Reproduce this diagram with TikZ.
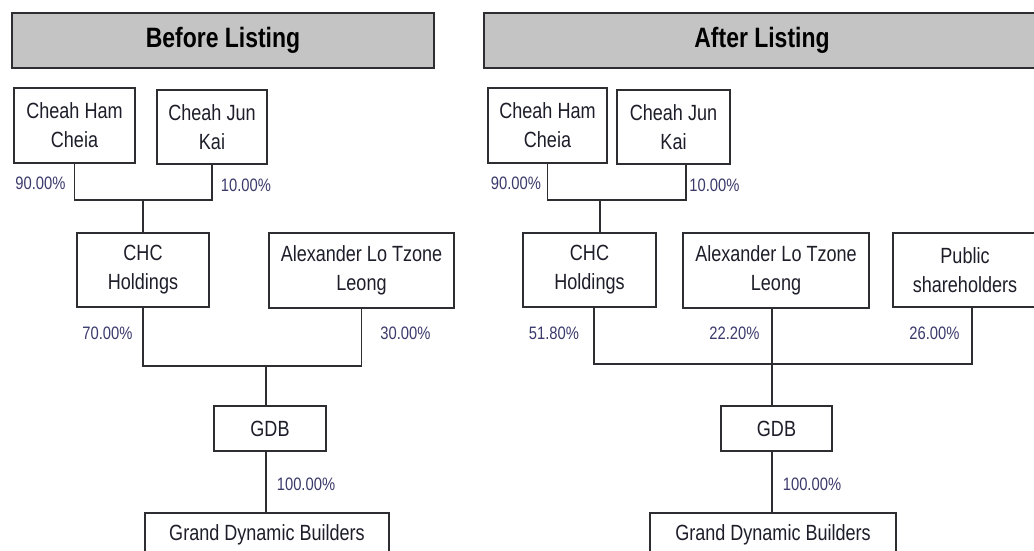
\documentclass[tikz,border=0pt]{standalone}
\usepackage{fontspec}
\setmainfont{Liberation Sans}[FakeStretch=0.82]
\definecolor{txt}{RGB}{30,30,42}
\definecolor{pct}{RGB}{58,58,108}
\definecolor{hdrfill}{RGB}{196,196,196}
\definecolor{edge}{RGB}{45,45,50}
\tikzset{
  box/.style={draw=edge, line width=1.3pt, fill=white, align=center, text=txt,
    inner sep=0pt, font=\fontsize{22}{29}\selectfont},
  hdr/.style={draw=edge, line width=1.8pt, fill=hdrfill, text=black, inner sep=0pt,
    font=\bfseries\fontsize{28}{34}\selectfont},
  pctlabel/.style={text=pct, inner sep=0pt, font=\fontsize{18}{22}\selectfont},
  link/.style={draw=edge, line width=1.2pt}
}
\begin{document}
\begin{tikzpicture}[x=1pt, y=-1pt]
\useasboundingbox (0,0) rectangle (1034,551);
\clip (0,0) rectangle (1034,551);
\fill[white] (0,0) rectangle (1034,551);

% ---------- Before Listing ----------
\node[hdr, minimum width=422pt, minimum height=55pt] (hdrL) at (223,40.5) {Before Listing};
\node[box, minimum width=121pt, minimum height=75pt] (chL) at (74.5,125.5) {Cheah Ham\\Cheia};
\node[box, minimum width=110pt, minimum height=74pt] (cjL) at (212,127) {Cheah Jun\\Kai};
\node[box, minimum width=132pt, minimum height=74pt] (chcL) at (143,270) {CHC\\Holdings};
\node[box, minimum width=185pt, minimum height=75pt] (alxL) at (361.5,270.5) {Alexander Lo Tzone\\Leong};
\node[box, minimum width=112pt, minimum height=45pt] (gdbL) at (270,428.5) {GDB};
\node[box, minimum width=244pt, minimum height=44pt] (gduL) at (267,535) {Grand Dynamic Builders};

\coordinate (mL) at (143,200);
\coordinate (jL) at (266,366);
\draw[link] (chL.south) -- (chL.south |- mL) -- (cjL.south |- mL) -- (cjL.south);
\draw[link] (mL) -- (chcL.north);
\draw[link] (chcL.south) |- (jL);
\draw[link] (alxL.south) |- (jL);
\draw[link] (jL) -- (jL |- gdbL.north);
\draw[link] (jL |- gdbL.south) -- (jL |- gduL.north);

\node[pctlabel] (p90L) at (40.5,183) {90.00\%};
\node[pctlabel] (p10L) at (246,185) {10.00\%};
\node[pctlabel] (p70L) at (107.5,333) {70.00\%};
\node[pctlabel] (p30L) at (405.5,333) {30.00\%};
\node[pctlabel] (p100L) at (306,484) {100.00\%};

% ---------- After Listing ----------
\node[hdr, minimum width=556pt, minimum height=55pt] (hdrR) at (762,40.5) {After Listing};
\node[box, minimum width=119pt, minimum height=75pt] (chR) at (547.5,125.5) {Cheah Ham\\Cheia};
\node[box, minimum width=113pt, minimum height=74pt] (cjR) at (673.5,127) {Cheah Jun\\Kai};
\node[box, minimum width=133pt, minimum height=74pt] (chcR) at (589.5,270) {CHC\\Holdings};
\node[box, minimum width=186pt, minimum height=75pt] (alxR) at (776,270.5) {Alexander Lo Tzone\\Leong};
\node[box, minimum width=144pt, minimum height=74pt] (pubR) at (965,270) {Public\\shareholders};
\node[box, minimum width=111pt, minimum height=45pt] (gdbR) at (776.5,428.5) {GDB};
\node[box, minimum width=246pt, minimum height=44pt] (gduR) at (773,535) {Grand Dynamic Builders};

\coordinate (kR) at (686,200);
\coordinate (mR) at (600,200);
\coordinate (pR) at (594,364);
\coordinate (sR) at (972,364);
\coordinate (qR) at (772,364);
\draw[link] (chR.south) |- (kR) -- (kR |- cjR.south);
\draw[link] (mR) -- (mR |- chcR.north);
\draw[link] (pR |- chcR.south) -- (pR) -- (sR) -- (sR |- pubR.south);
\draw[link] (qR |- alxR.south) -- (qR |- gdbR.north);
\draw[link] (qR |- gdbR.south) -- (qR |- gduR.north);

\node[pctlabel] (p90R) at (516,183) {90.00\%};
\node[pctlabel] (p10R) at (714.5,185) {10.00\%};
\node[pctlabel] (p51R) at (554,333) {51.80\%};
\node[pctlabel] (p22R) at (734.5,333) {22.20\%};
\node[pctlabel] (p26R) at (934.5,333) {26.00\%};
\node[pctlabel] (p100R) at (812,484) {100.00\%};
\end{tikzpicture}
\end{document}
